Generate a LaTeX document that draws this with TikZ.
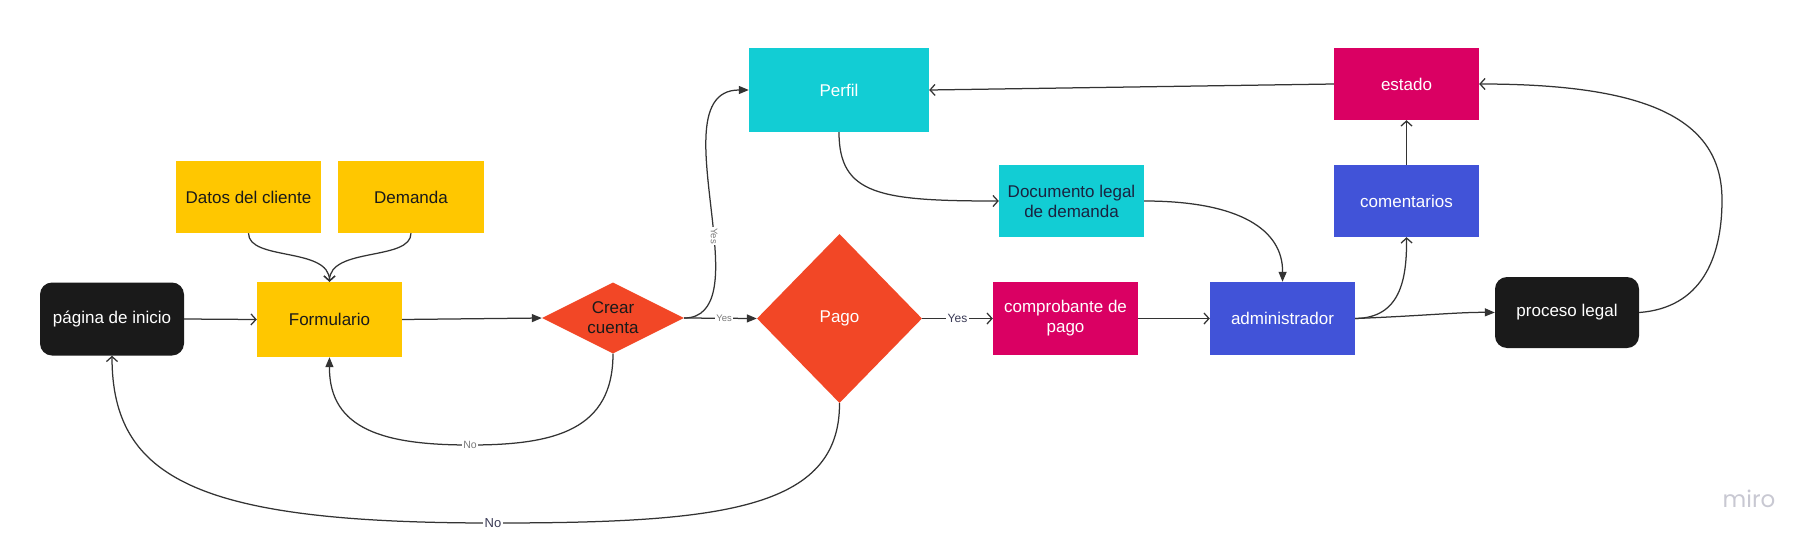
\documentclass[tikz,border=0pt]{standalone}
\usepackage{fontspec}
\setmainfont{Liberation Sans}
\newfontfamily\mirofont{Poppins}
\usetikzlibrary{shapes.geometric,arrows.meta}
\definecolor{cblack}{HTML}{1A1A1A}
\definecolor{cyellow}{HTML}{FFC700}
\definecolor{corange}{HTML}{F24726}
\definecolor{ccyan}{HTML}{12CDD4}
\definecolor{cmagenta}{HTML}{DA0063}
\definecolor{cblue}{HTML}{4153D8}
\definecolor{cline}{HTML}{333333}
\definecolor{clabel}{HTML}{7A7A7A}
\definecolor{cnavy}{HTML}{1A2340}
\definecolor{cdark}{HTML}{3A3A55}
\definecolor{cmiro}{HTML}{C8C8D2}
\begin{document}
\begin{tikzpicture}[x=1pt,y=-1pt,
  box/.style={rectangle, minimum width=145pt, minimum height=73pt, inner sep=2pt,
    align=center, font=\fontsize{17}{20}\selectfont},
  ybox/.style={box, fill=cyellow, text=cblack},
  kbox/.style={box, fill=cblack, text=white, rounded corners=12pt, minimum width=144pt, minimum height=73pt},
  cbox/.style={box, fill=ccyan},
  mbox/.style={box, fill=cmagenta, text=white},
  bbox/.style={box, fill=cblue, text=white},
  dia/.style={diamond, fill=corange, inner sep=0pt, align=center, font=\fontsize{17}{20}\selectfont},
  edge/.style={draw=cline, line width=1.25pt},
  openarr/.style={edge, -{Straight Barb[length=5pt,width=11pt,line width=1.25pt]}},
  fillarr/.style={edge, -{Triangle[length=10pt,width=8pt]}},
  lblsmall/.style={fill=white, text=clabel, inner sep=1.5pt, font=\fontsize{9.5}{11}\selectfont},
  lblbig/.style={fill=white, text=cdark, inner sep=2pt, font=\fontsize{12}{14}\selectfont},
]
\useasboundingbox (0,0) rectangle (1819,549);
\fill[white] (0,0) rectangle (1819,549);

% nodes
\node[kbox] (pag) at (112,319) {página de inicio};
\node[ybox, minimum height=75pt] (form) at (329.5,319.5) {Formulario};
\node[ybox, minimum height=72pt] (datos) at (248.5,197) {Datos del cliente};
\node[ybox, minimum height=72pt, minimum width=146pt] (dem) at (411,197) {Demanda};
\node[dia, text=cblack, aspect=2, minimum width=142pt, minimum height=71pt] (crear) at (613,318) {Crear\\cuenta};
\node[dia, text=white, aspect=1, minimum width=165pt, minimum height=169pt] (pago) at (839.5,318.5) {Pago};
\node[cbox, text=white, minimum width=180pt, minimum height=84pt] (perfil) at (839,90) {Perfil};
\node[cbox, text=cnavy, minimum height=72pt] (doc) at (1071.5,201) {Documento legal\\de demanda};
\node[mbox] (comp) at (1065.5,318.5) {comprobante de\\pago};
\node[bbox] (admin) at (1282.5,318.5) {administrador};
\node[bbox, minimum height=72pt] (coment) at (1406.5,201) {comentarios};
\node[mbox, minimum height=72pt] (estado) at (1406.5,84) {estado};
\node[kbox, minimum height=71pt] (proc) at (1567,312.5) {proceso legal};
\node[text=cmiro, font=\mirofont\fontsize{23}{26}\selectfont] (miro) at (1749,499) {miro};

% connectors
\draw[openarr] (pag.east) -- (form.west);
\draw[openarr] (datos.south) .. controls +(0,28) and +(0,-35) .. (form.north);
\draw[openarr] (dem.south) .. controls +(0,28) and +(0,-35) .. (form.north);
\draw[fillarr] (form.east) -- (crear.west);
\draw[fillarr] (crear.east) -- node[lblsmall, pos=0.55] {Yes} (pago.west);
\draw[fillarr] (crear.east) .. controls (720,318) and (717,270) .. (714,236)
  node[lblsmall, rotate=-90] {Yes}
  .. controls (708,170) and (690,90) .. (perfil.west);
\draw[fillarr] (crear.south) .. controls (613,430) and (555,445) .. (470,445)
  node[lblsmall, font=\fontsize{10.5}{12}\selectfont] {No}
  .. controls (385,445) and (329,430) .. (form.south);
\draw[openarr] (pago.south) .. controls (840,510) and (720,523) .. (493,523)
  node[lblbig, font=\fontsize{13}{15}\selectfont] {No}
  .. controls (200,523) and (112,480) .. (pag.south);
\draw[openarr] (pago.east) -- node[lblbig] {Yes} (comp.west);
\draw[openarr] (comp.east) -- (admin.west);
\draw[openarr] (perfil.south) .. controls (839,195) and (880,201) .. (doc.west);
\draw[fillarr] (doc.east) .. controls (1240,201) and (1283,230) .. (admin.north);
\draw[openarr] (admin.east) .. controls (1400,318) and (1407,280) .. (coment.south);
\draw[openarr] (coment.north) -- (estado.south);
\draw[openarr] (estado.west) -- (perfil.east);
\draw[fillarr] (admin.east) .. controls (1420,316) and (1460,312) .. (proc.west);
\draw[openarr] (proc.east) .. controls (1700,308) and (1722,260) .. (1722,200)
  .. controls (1722,120) and (1650,84) .. (estado.east);
\end{tikzpicture}
\end{document}
